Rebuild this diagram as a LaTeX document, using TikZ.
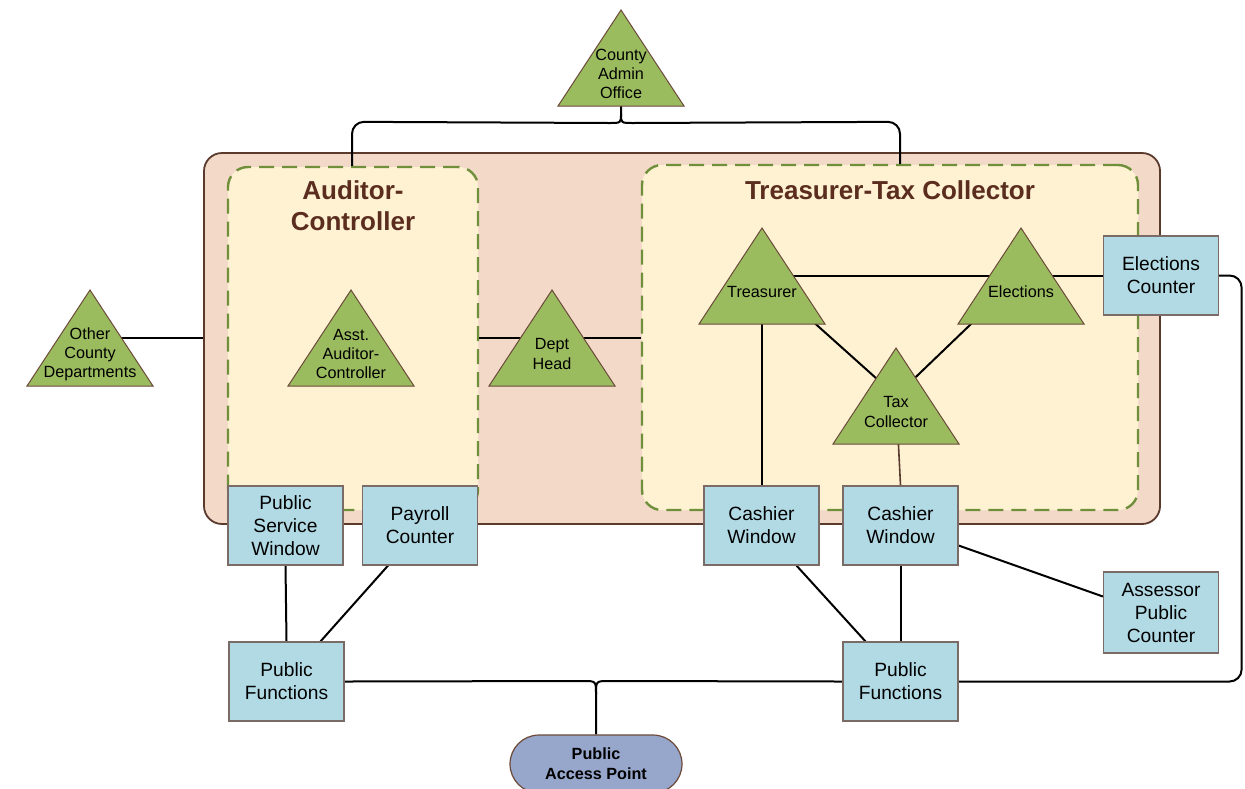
\documentclass[tikz,border=0pt]{standalone}
\usepackage{fontspec}
\setmainfont{Liberation Sans}
\usetikzlibrary{backgrounds,calc}

\definecolor{peach}{HTML}{F2D9C8}
\definecolor{peachedge}{HTML}{5B3A2E}
\definecolor{cream}{HTML}{FFF2D3}
\definecolor{dashgreen}{HTML}{6F8F3A}
\definecolor{trigreen}{HTML}{9BBB5F}
\definecolor{triedge}{HTML}{6B4A3A}
\definecolor{boxblue}{HTML}{B1DAE5}
\definecolor{boxedge}{HTML}{7B6B66}
\definecolor{titlebrown}{HTML}{5A2D1E}
\definecolor{accessblue}{HTML}{97A6CB}

% triangle unit: name, apex x, apex y, label
\newcommand\triangnode[4]{%
  \path[trishape] (#2,#3) -- ++(63,96) -- ++(-126,0) -- cycle;
  \coordinate (#1-mid) at (#2,#3+48);
  \coordinate (#1-bot) at (#2,#3+96);
  \node[tritext] (#1) at (#2,#3+64) {#4};
}

\begin{document}
\begin{tikzpicture}[x=0.5pt,y=-0.5pt,
  trishape/.style={fill=trigreen,draw=triedge,line width=0.5pt},
  tritext/.style={align=center,font=\fontsize{8.1pt}{9.6pt}\selectfont,inner sep=0pt},
  counter/.style={draw=boxedge,fill=boxblue,line width=0.6pt,minimum width=57.5pt,
    minimum height=39.5pt,inner sep=0pt,align=center,
    font=\fontsize{9.6pt}{11.5pt}\selectfont},
  conn/.style={draw=black,line width=1pt},
  brownconn/.style={draw=peachedge,line width=0.8pt},
  division/.style={draw=dashgreen,fill=cream,line width=1.2pt,
    dash pattern=on 7.5pt off 4pt,rounded corners=10pt,inner sep=0pt},
  divtitle/.style={text=titlebrown,align=center,inner sep=0pt,
    font=\fontsize{13pt}{15.5pt}\selectfont\bfseries}]
\useasboundingbox (0,0) rectangle (1245,788);

% department frame and its two divisions
\begin{scope}[on background layer]
  \node[draw=peachedge,fill=peach,line width=0.9pt,rounded corners=9pt,
    minimum width=478pt,minimum height=185.5pt,inner sep=0pt] (outer) at (682,338.5) {};
  \node[division,minimum width=125pt,minimum height=171.5pt] (aud) at (353,338.5) {};
  \node[division,minimum width=248pt,minimum height=172.5pt] (ttc) at (890,337.5) {};
\end{scope}

\node[divtitle] (audtitle) at (353,205.5) {Auditor-\\Controller};
\node[divtitle] (ttctitle) at (890,190) {Treasurer-Tax Collector};

% offices
\triangnode{admin}{621}{10}{County\\Admin\\Office}
\triangnode{other}{90}{290}{Other\\County\\Departments}
\triangnode{asst}{351}{290}{Asst.\\Auditor-\\Controller}
\triangnode{dept}{552}{290}{Dept\\Head}
\triangnode{treas}{762}{228}{Treasurer}
\triangnode{elec}{1021}{228}{Elections}
\triangnode{tax}{896}{348}{Tax\\Collector}

% public counters
\node[counter] (psw) at (285.5,525.5) {Public\\Service\\Window};
\node[counter] (payroll) at (420,525.5) {Payroll\\Counter};
\node[counter] (cash1) at (761.5,525.5) {Cashier\\Window};
\node[counter] (cash2) at (900.5,525.5) {Cashier\\Window};
\node[counter] (eleccounter) at (1161,275.5) {Elections\\Counter};
\node[counter,minimum height=40.5pt] (assessor) at (1161,612.5) {Assessor\\Public\\Counter};
\node[counter] (pf1) at (286.5,681.5) {Public\\Functions};
\node[counter] (pf2) at (900.5,681.5) {Public\\Functions};
\node[draw=triedge,fill=accessblue,line width=0.6pt,minimum width=86pt,minimum height=29pt,
  rounded corners=14.5pt,inner sep=0pt,align=center,
  font=\fontsize{8.1pt}{10pt}\selectfont\bfseries] (pap) at (596,764) {Public\\Access Point};

\coordinate (topj) at (621,114);
\coordinate (botj) at (596,694);

% connectors, kept behind the shapes
\begin{scope}[on background layer]
  \draw[conn] (admin-bot) -- (topj) .. controls ($(topj)+(0,9)$) .. ($(topj)+(-12,9)$)
    [rounded corners=6pt] -- ($(aud.north)+(-1,-44)$) -- ($(aud.north)+(-1,0)$);
  \draw[conn] (topj) .. controls ($(topj)+(0,9)$) .. ($(topj)+(12,9)$)
    [rounded corners=6pt] -- ($(ttc.north)+(10,-42)$) -- ($(ttc.north)+(10,0)$);
  \draw[conn] (other-mid) -- (other-mid -| outer.west);
  \draw[conn] (dept-mid -| aud.east) -- (dept-mid -| ttc.west);
  \draw[conn] (treas-mid) -- (treas-mid -| eleccounter.west);
  \draw[conn] (treas-mid) -- (tax-mid);
  \draw[conn] (elec-mid) -- (tax-mid);
  \draw[conn] (treas-mid) -- (treas-mid |- cash1.north);
  \draw[brownconn] (tax-mid) -- (cash2.north);
  \draw[conn] (psw.south) -- (pf1.north);
  \draw[conn] ($(payroll.south)+(-32,0)$) -- ($(pf1.north)+(34,0)$);
  \draw[conn] ($(cash1.south)+(35,0)$) -- ($(pf2.north)+(-35,0)$);
  \draw[conn] (cash2.south) -- (pf2.north);
  \draw[conn] ($(cash2.east)+(0,20)$) -- ($(assessor.west)+(0,-16)$);
  \draw[conn] (pf1.east) -- ($(botj)+(-13,-13)$) .. controls ($(botj)+(0,-13)$) .. (botj) -- (pap.north);
  \draw[conn] (pf2.west) -- ($(botj)+(13,-13)$) .. controls ($(botj)+(0,-13)$) .. (botj);
  \draw[conn,rounded corners=6pt] (eleccounter.east) -| ($(pf2.east)+(283,0)$) -- (pf2.east);
\end{scope}
\end{tikzpicture}
\end{document}
